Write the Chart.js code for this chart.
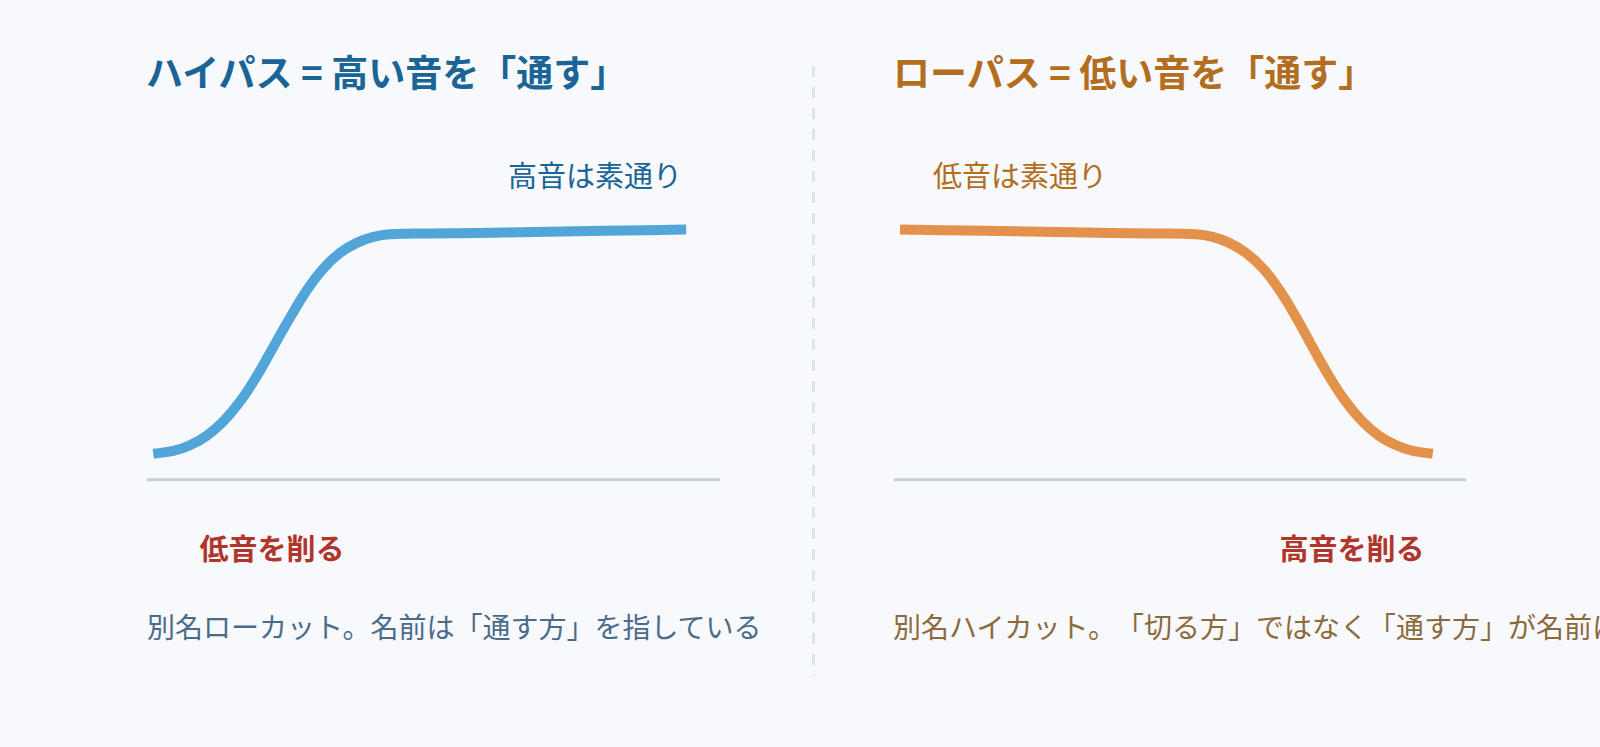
<!DOCTYPE html>
<html lang="ja">
<head>
<meta charset="UTF-8">
<script src="https://cdn.jsdelivr.net/npm/chart.js@4.4.1/dist/chart.umd.min.js"></script>
<style>
  html, body { margin: 0; padding: 0; width: 1600px; height: 747px; overflow: hidden; background: #f7f9fc; }
  body { position: relative; font-family: "Noto Sans CJK JP", "Noto Sans", sans-serif; text-spacing-trim: space-all; }
  .t { position: absolute; white-space: nowrap; line-height: 1; }
  .title { font-size: 37px; font-weight: 700; }
  .label { font-size: 29px; }
  .cut { font-size: 29px; font-weight: 700; color: #b0352b; transform: translateX(-50%); }
  .desc { font-size: 28px; }
  .blue { color: #1a6496; }
  .brown { color: #b36d1f; }
  canvas { position: absolute; }
  #divider { position: absolute; left: 812px; top: 66px; width: 3px; height: 610px;
    background: repeating-linear-gradient(to bottom, #dde3ea 0 11px, transparent 11px 21px); }
</style>
</head>
<body>
  <div class="t title blue" style="left:146px; top:53px;">ハイパス = 高い音を「通す」</div>
  <div class="t title brown" style="left:893px; top:53px;">ローパス = 低い音を「通す」</div>

  <div class="t label blue" style="right:918px; top:160px;">高音は素通り</div>
  <div class="t label brown" style="left:933px; top:160px;">低音は素通り</div>

  <div class="t cut" style="left:272px; top:533px;">低音を削る</div>
  <div class="t cut" style="left:1352px; top:533px;">高音を削る</div>

  <div class="t desc" style="left:147px; top:612px; color:#4a6b8a;">別名ローカット。名前は「通す方」を指している</div>
  <div class="t desc" style="left:893px; top:612px; color:#8c6a3c;">別名ハイカット。「切る方」ではなく「通す方」が名前になっている</div>

  <div id="divider"></div>

  <canvas id="hp" width="573" height="346" style="left:147px; top:146px;"></canvas>
  <canvas id="lp" width="572" height="346" style="left:894px; top:146px;"></canvas>

<script>
// ハイパス: 周波数位置 (0-100) と通過量
var hpPos  = [1.1, 4.6, 7.5, 10.4, 13.3, 16.2, 19.1, 22.0, 25.0, 27.9, 30.8, 33.7, 36.6, 39.5, 42.4, 50, 65, 80, 94.1];
var hpGain = [0.105, 0.116, 0.139, 0.177, 0.235, 0.315, 0.417, 0.535, 0.657, 0.767, 0.855, 0.918, 0.958, 0.982, 0.993, 0.996, 1.001, 1.007, 1.012];

// ローパス
var lpPos  = [1.05, 16, 31, 45, 52.8, 55.7, 58.6, 61.5, 64.5, 67.4, 70.3, 73.2, 76.1, 79.0, 81.9, 84.8, 87.8, 90.7, 94.2];
var lpGain = [1.012, 1.007, 1.001, 0.996, 0.993, 0.982, 0.958, 0.918, 0.855, 0.767, 0.657, 0.535, 0.417, 0.315, 0.235, 0.177, 0.139, 0.116, 0.105];

// 基準線 (ゲイン 0)
var basePos  = [0, 100];
var baseGain = [0, 0];

function toPoints(xs, ys) {
  return xs.map(function (x, i) { return { x: x, y: ys[i] }; });
}

function makeChart(id, xs, ys, color) {
  var ctx = document.getElementById(id).getContext('2d');
  return new Chart(ctx, {
    type: 'line',
    data: {
      datasets: [{
        data: toPoints(xs, ys),
        borderColor: color,
        borderWidth: 10,
        borderCapStyle: 'butt',
        borderJoinStyle: 'round',
        tension: 0.4,
        pointRadius: 0,
        fill: false,
        clip: false
      }, {
        data: toPoints(basePos, baseGain),
        borderColor: '#c5cfdc',
        borderWidth: 3,
        pointRadius: 0,
        fill: false,
        clip: false
      }]
    },
    options: {
      responsive: false,
      animation: false,
      devicePixelRatio: 1,
      events: [],
      layout: { padding: 0 },
      plugins: { legend: { display: false }, tooltip: { enabled: false } },
      scales: {
        x: { type: 'linear', min: 0, max: 100, display: false },
        y: { min: -0.05, max: 1.35, display: false }
      }
    }
  });
}

makeChart('hp', hpPos, hpGain, '#52a5d8');
makeChart('lp', lpPos, lpGain, '#e3924c');
</script>
</body>
</html>
